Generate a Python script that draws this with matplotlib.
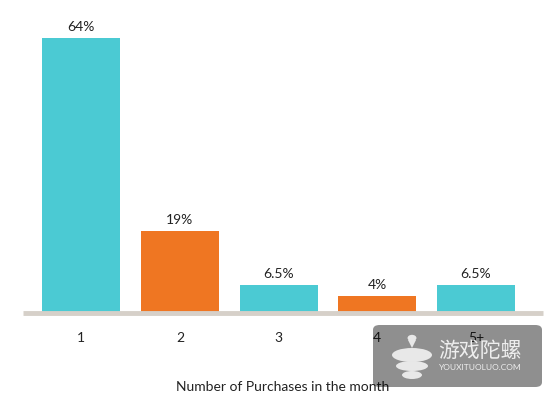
import matplotlib.pyplot as plt
from matplotlib.patches import FancyBboxPatch, Ellipse, Circle, Polygon

categories = ['1', '2', '3', '4', '5+']
values = [64, 19, 6.5, 4, 6.5]
labels = ['64%', '19%', '6.5%', '4%', '6.5%']
xlabel = 'Number of Purchases in the month'

cyan = '#4BCAD3'
orange = '#EF7622'
colors = [cyan, orange, cyan, orange, cyan]

plt.rcParams['font.family'] = ['Lato', 'DejaVu Sans']

fig = plt.figure(figsize=(5.57, 3.97), dpi=100)
# axes: x 23..543 px, y bottom at baseline 313 px
ax = fig.add_axes([23 / 557, (397 - 313) / 397, 520 / 557, 292 / 397])

pos = list(range(len(categories)))
ax.bar(pos, values, width=0.79, color=colors, zorder=2)
for p, v, t in zip(pos, values, labels):
    ax.text(p, v + 1.2, t, ha='center', va='bottom', fontsize=10, color='#222222')

ax.set_xlim(-0.59, 4.68)
ax.set_ylim(0, 68)
ax.set_xticks(pos)
ax.set_xticklabels(categories, fontsize=10, color='#222222')
ax.tick_params(axis='x', length=0, pad=14)
ax.set_yticks([])
for s in ['top', 'right', 'left']:
    ax.spines[s].set_visible(False)
ax.spines['bottom'].set_color('#D6D0C9')
ax.spines['bottom'].set_linewidth(3.5)
ax.spines['bottom'].set_capstyle('butt')
ax.set_xlabel(xlabel, fontsize=10, color='#222222', labelpad=26)

# watermark overlay
W, H = 557, 397
def fx(x):
    return x / W
def fy(y):
    return (H - y) / H

box = FancyBboxPatch((fx(373), fy(387)), fx(542) - fx(373), fy(325) - fy(387),
                     boxstyle='round,pad=0,rounding_size=0.012',
                     transform=fig.transFigure, facecolor='black', alpha=0.44,
                     edgecolor='none', zorder=10)
fig.patches.append(box)
# simple spinning top icon
icon = dict(transform=fig.transFigure, facecolor='#E8E8E8', edgecolor='none', zorder=11)
fig.patches.append(Circle((fx(412), fy(338)), 0.008, **icon))
fig.patches.append(Polygon([(fx(408), fy(340)), (fx(416), fy(340)), (fx(412), fy(348))], closed=True, **icon))
fig.patches.append(Ellipse((fx(412), fy(355)), fx(40) , 14 / H, **icon))
fig.patches.append(Ellipse((fx(412), fy(366)), fx(32), 10 / H, **icon))
fig.patches.append(Ellipse((fx(412), fy(375)), fx(20), 8 / H, **icon))
fig.text(fx(480), fy(351), '游戏陀螺', fontsize=15, color='#EEEEEE', ha='center', va='center',
         family=['Noto Sans CJK SC', 'DejaVu Sans'], zorder=12)
fig.text(fx(480), fy(368), 'YOUXITUOLUO.COM', fontsize=6, color='#EEEEEE', ha='center', va='center',
         zorder=12)

fig.savefig('out.png', dpi=100)
